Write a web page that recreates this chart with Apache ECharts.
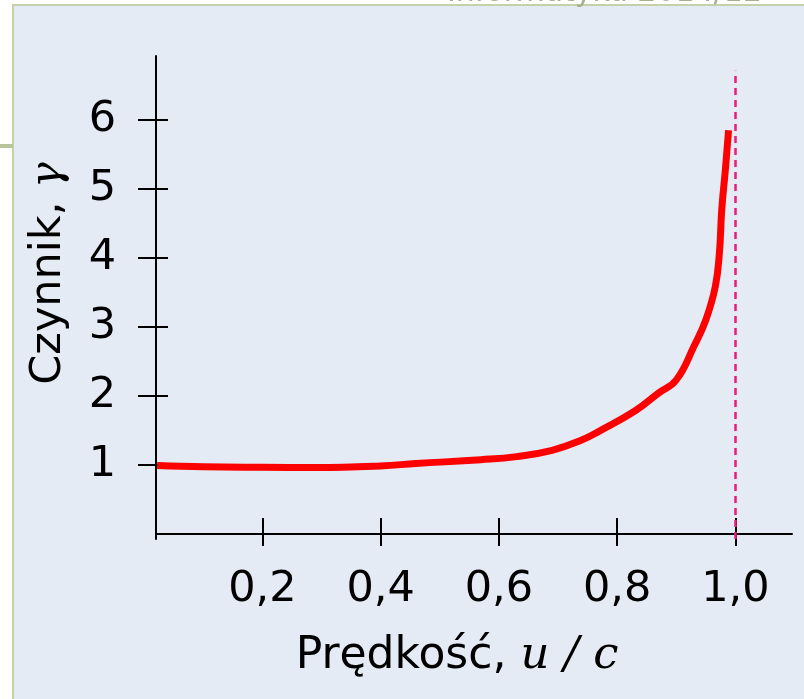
<!DOCTYPE html>
<html><head><meta charset="utf-8">
<script src="https://cdn.jsdelivr.net/npm/echarts@6/dist/echarts.min.js"></script>
<style>html,body{margin:0;padding:0;background:#fff}#c{width:804px;height:699px}</style>
</head><body><div id="c"></div>
<script>
// Data
const uValues = [0.022, 0.1, 0.2, 0.29, 0.4, 0.46, 0.57, 0.63, 0.69, 0.74, 0.77, 0.83, 0.87, 0.9, 0.93, 0.95, 0.966, 0.973, 0.977, 0.983, 0.9885];
const gammaValues = [0.99, 0.972, 0.965, 0.963, 0.985, 1.02, 1.075, 1.12, 1.21, 1.36, 1.49, 1.78, 2.04, 2.23, 2.72, 3.10, 3.58, 4.07, 4.70, 5.27, 5.85];
const xTickValues = [0.2, 0.4, 0.6, 0.8, 1.0];
const xTickLabels = ['0,2', '0,4', '0,6', '0,8', '1,0'];
const yTickValues = [1, 2, 3, 4, 5, 6];
const yTickLabels = ['1', '2', '3', '4', '5', '6'];
const asymptoteU = 1.0;
const asymptoteTop = 6.71;
const xName = 'Prędkość, ';
const xNameMath = 'u / c';
const yName = 'Czynnik, ';
const yNameMath = 'γ';
const footerText = 'Informatyka 2014/12';

const X_MIN = 0.0201, X_MAX = 1.0958, Y_MIN = -0.074, Y_MAX = 6.925;
const font = 'DejaVu Sans';
const mathFont = 'DejaVu Serif';
const FS = 43;
const NFS = 44;

const chart = echarts.init(document.getElementById('c'), null, {renderer: 'canvas'});
const labelFmt = (vals, labels) => v => {
  for (let i = 0; i < vals.length; i++) if (Math.abs(vals[i] - v) < 1e-6) return labels[i];
  return '';
};
const axisLine = {show: true, lineStyle: {color: '#000', width: 2}};
const tickStyle = {color: '#000', width: 2};

chart.setOption({
  backgroundColor: '#ffffff',
  animation: false,
  graphic: [
    {type: 'rect', z: -10, shape: {x: 13, y: 5, width: 820, height: 720},
     style: {fill: '#e4ebf4', stroke: '#c6d0ab', lineWidth: 2}},
    {type: 'line', z: -10, shape: {x1: 0, y1: 146, x2: 13, y2: 146},
     style: {stroke: '#b9c49c', lineWidth: 4}},
    {type: 'text', z: -5, x: 762, y: 8,
     style: {text: footerText, font: '30px "DejaVu Sans"', fill: '#a7b08e', align: 'right', verticalAlign: 'bottom'}}
  ],
  grid: {left: 156, right: 12, top: 56, bottom: 160, containLabel: false},
  xAxis: [
    {type: 'value', min: X_MIN, max: X_MAX, position: 'bottom',
     axisLine: axisLine, splitLine: {show: false},
     axisTick: {show: true, customValues: xTickValues, length: 12, inside: false, lineStyle: tickStyle},
     axisLabel: {show: true, customValues: xTickValues, formatter: labelFmt(xTickValues, xTickLabels),
       fontFamily: font, fontSize: FS, color: '#000', margin: 29},
     name: xName + '{m|' + xNameMath + '}', nameLocation: 'middle', nameGap: 95,
     nameTextStyle: {fontFamily: font, fontSize: NFS, color: '#000', padding: [0, 34, 0, 0],
       rich: {m: {fontFamily: mathFont, fontStyle: 'italic', fontSize: NFS + 1, color: '#000'}}}},
    {type: 'value', min: X_MIN, max: X_MAX, position: 'bottom',
     axisLine: {show: false}, splitLine: {show: false}, axisLabel: {show: false},
     axisTick: {show: true, customValues: xTickValues, length: 16, inside: true, lineStyle: tickStyle}}
  ],
  yAxis: [
    {type: 'value', min: Y_MIN, max: Y_MAX, position: 'left',
     axisLine: axisLine, splitLine: {show: false},
     axisTick: {show: true, customValues: yTickValues, length: 18, inside: false, lineStyle: tickStyle},
     axisLabel: {show: true, customValues: yTickValues, formatter: labelFmt(yTickValues, yTickLabels),
       fontFamily: font, fontSize: FS, color: '#000', margin: 40},
     name: yName + '{m|' + yNameMath + '}', nameLocation: 'middle', nameGap: 86, nameRotate: 90,
     nameTextStyle: {fontFamily: font, fontSize: FS, color: '#000', padding: [0, 0, 0, 48],
       rich: {m: {fontFamily: mathFont, fontStyle: 'italic', fontSize: FS, color: '#000'}}}},
    {type: 'value', min: Y_MIN, max: Y_MAX, position: 'left',
     axisLine: {show: false}, splitLine: {show: false}, axisLabel: {show: false},
     axisTick: {show: true, customValues: yTickValues, length: 12, inside: true, lineStyle: tickStyle}}
  ],
  series: [{
    type: 'line', xAxisIndex: 0, yAxisIndex: 0,
    data: uValues.map((u, i) => [u, gammaValues[i]]),
    showSymbol: false, smooth: 0.45,
    lineStyle: {color: '#ff0000', width: 7, cap: 'butt', join: 'round'},
    z: 3,
    markLine: {
      silent: true, symbol: 'none', label: {show: false},
      lineStyle: {color: '#ee1a7c', width: 2.5, type: [7, 5]},
      data: [[{coord: [asymptoteU, Y_MIN]}, {coord: [asymptoteU, asymptoteTop]}]]
    }
  }]
});
</script></body></html>
